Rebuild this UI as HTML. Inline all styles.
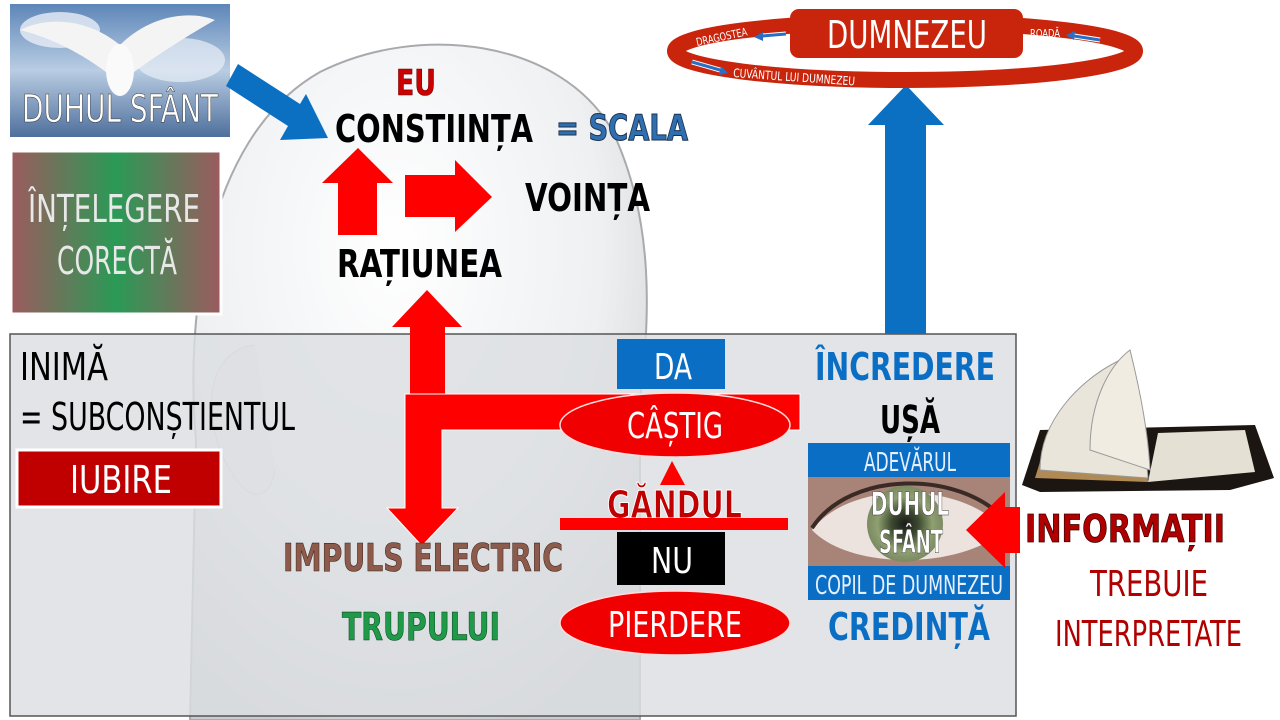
<!DOCTYPE html>
<html><head><meta charset="utf-8"><style>
html,body{margin:0;padding:0;background:#fff;}
svg{display:block;}
text{font-family:"Liberation Sans Narrow","DejaVu Sans Condensed","Liberation Sans",sans-serif;}
.b{font-weight:bold;}
</style></head><body>
<svg width="1280" height="720" viewBox="0 0 1280 720" xmlns="http://www.w3.org/2000/svg">
<defs>
<radialGradient id="head" cx="0.45" cy="0.3" r="0.75">
<stop offset="0" stop-color="#ffffff"/><stop offset="0.6" stop-color="#eef0f2"/><stop offset="1" stop-color="#c9cbce"/>
</radialGradient>
<linearGradient id="sky" x1="0" y1="0" x2="0" y2="1">
<stop offset="0" stop-color="#5d86b8"/><stop offset="0.5" stop-color="#b9cde3"/><stop offset="1" stop-color="#4e6f9c"/>
</linearGradient>
<linearGradient id="int" x1="0" y1="0" x2="1" y2="0">
<stop offset="0" stop-color="#9c5a5e"/><stop offset="0.5" stop-color="#2a9a56"/><stop offset="1" stop-color="#9c5a5e"/>
</linearGradient>
<radialGradient id="eye" cx="0.5" cy="0.5" r="0.6">
<stop offset="0" stop-color="#1a1a1a"/><stop offset="0.3" stop-color="#3d4a30"/><stop offset="0.6" stop-color="#8fa070"/><stop offset="1" stop-color="#6d7a58"/>
</radialGradient>
</defs>

<!-- head -->
<path d="M190,720 L196,440 C186,330 200,140 320,72 C420,22 560,40 612,130 C655,220 650,320 640,400 L640,720 Z" fill="url(#head)" stroke="#a8aaad" stroke-width="2"/>
<path d="M255,345 C205,350 200,420 230,470 C250,505 270,500 275,470" fill="#e6e7e9" stroke="#c8c9cc"/>

<!-- gray box -->
<rect x="10" y="334" width="1006" height="382" fill="#dcdee2" fill-opacity="0.82" stroke="#555" stroke-width="1.5"/>

<!-- dove panel -->
<rect x="10" y="4" width="220" height="133" fill="url(#sky)"/>
<ellipse cx="60" cy="30" rx="40" ry="18" fill="#e8eef6" opacity="0.8"/>
<ellipse cx="180" cy="60" rx="45" ry="22" fill="#e8eef6" opacity="0.7"/>
<path d="M120,45 C90,20 50,15 20,30 C60,40 90,60 110,75 Z" fill="#f4f4f4"/>
<path d="M120,45 C150,15 190,10 215,20 C180,40 150,60 130,75 Z" fill="#f4f4f4"/>
<ellipse cx="120" cy="70" rx="14" ry="26" fill="#fafafa"/>
<text x="22" y="122" font-size="38" fill="#fff" stroke="#333" stroke-width="0.5" textLength="196" lengthAdjust="spacingAndGlyphs">DUHUL SFÂNT</text>

<!-- intelegere -->
<rect x="11" y="151" width="210" height="163" fill="url(#int)" stroke="#fff" stroke-width="3"/>
<text x="28" y="222" font-size="38" fill="#e8e8e8" textLength="172" lengthAdjust="spacingAndGlyphs">ÎNȚELEGERE</text>
<text x="57" y="274" font-size="38" fill="#e8e8e8" textLength="120" lengthAdjust="spacingAndGlyphs">CORECTĂ</text>

<!-- blue diagonal arrow -->
<polygon points="238,64 300,104 306,94 328,138 280,140 288,126 226,86" fill="#0b6fc2"/>

<text x="396" y="95" font-size="36" class="b" fill="#cc0000" stroke="#660000" stroke-width="0.6" textLength="40" lengthAdjust="spacingAndGlyphs">EU</text>
<text x="335" y="142" font-size="38" class="b" fill="#000" textLength="198" lengthAdjust="spacingAndGlyphs">CONSTIINȚA</text>
<text x="556" y="140" font-size="36" class="b" fill="#2f6fb0" stroke="#1a3050" stroke-width="1" textLength="132" lengthAdjust="spacingAndGlyphs">= SCALA</text>

<polygon points="338,235 338,183 322,183 358,148 393,183 377,183 377,235" fill="#ff0000"/>
<polygon points="405,175 455,175 455,160 492,197 455,232 455,217 405,217" fill="#ff0000"/>
<text x="525" y="211" font-size="38" class="b" fill="#000" textLength="125" lengthAdjust="spacingAndGlyphs">VOINȚA</text>
<text x="337" y="277" font-size="38" class="b" fill="#000" textLength="165" lengthAdjust="spacingAndGlyphs">RAȚIUNEA</text>

<polygon points="410,395 410,327 392,327 427,290 462,327 445,327 445,395" fill="#ff0000"/>
<polygon points="405,394 800,394 800,430 442,430 442,508 458,508 422,546 387,508 405,508" fill="#ff0000" stroke="#fff" stroke-width="1"/>

<rect x="617" y="339" width="108" height="50" fill="#0a6fc4"/>
<text x="654" y="379" font-size="36" fill="#fff" textLength="38" lengthAdjust="spacingAndGlyphs">DA</text>
<ellipse cx="675" cy="425" rx="115" ry="32" fill="#f00000" stroke="#ffdcdc" stroke-width="1.5"/>
<text x="627" y="438" font-size="36" fill="#fff" textLength="96" lengthAdjust="spacingAndGlyphs">CÂȘTIG</text>
<polygon points="672,461 660,485 685,485" fill="#ff0000"/>
<text x="607" y="518" font-size="38" class="b" fill="#c00000" stroke="#fff" stroke-width="1" textLength="135" lengthAdjust="spacingAndGlyphs">GĂNDUL</text>
<rect x="560" y="518" width="228" height="12" fill="#ff0000"/>
<rect x="617" y="532" width="108" height="53" fill="#000"/>
<text x="651" y="573" font-size="36" fill="#fff" textLength="42" lengthAdjust="spacingAndGlyphs">NU</text>
<ellipse cx="675" cy="623" rx="115" ry="32" fill="#f00000" stroke="#ffdcdc" stroke-width="1.5"/>
<text x="608" y="637" font-size="36" fill="#fff" textLength="134" lengthAdjust="spacingAndGlyphs">PIERDERE</text>

<text x="283" y="571" font-size="38" class="b" fill="#8d5b4b" stroke="#3a2520" stroke-width="0.6" textLength="280" lengthAdjust="spacingAndGlyphs">IMPULS ELECTRIC</text>
<text x="342" y="640" font-size="38" class="b" fill="#1e9a48" stroke="#0c4020" stroke-width="0.6" textLength="158" lengthAdjust="spacingAndGlyphs">TRUPULUI</text>

<text x="20" y="380" font-size="38" fill="#000" textLength="88" lengthAdjust="spacingAndGlyphs">INIMĂ</text>
<text x="20" y="430" font-size="38" fill="#000" textLength="275" lengthAdjust="spacingAndGlyphs">= SUBCONȘTIENTUL</text>
<rect x="17" y="450" width="204" height="57" fill="#c00000" stroke="#fff" stroke-width="3"/>
<text x="70" y="493" font-size="38" fill="#fff" textLength="102" lengthAdjust="spacingAndGlyphs">IUBIRE</text>

<text x="815" y="380" font-size="38" class="b" fill="#0a6fc4" textLength="180" lengthAdjust="spacingAndGlyphs">ÎNCREDERE</text>
<text x="880" y="433" font-size="38" class="b" fill="#000" textLength="60" lengthAdjust="spacingAndGlyphs">UȘĂ</text>
<rect x="808" y="443" width="202" height="157" fill="#a88478"/>
<path d="M812,530 C850,480 960,480 1005,530 C960,570 850,570 812,530 Z" fill="#ede3de"/>
<path d="M812,528 C850,470 960,470 1005,520" fill="none" stroke="#3a2a25" stroke-width="4"/>
<circle cx="905" cy="524" r="38" fill="url(#eye)"/>
<rect x="808" y="443" width="202" height="34" fill="#0a6fc4"/>
<text x="864" y="471" font-size="26" fill="#e8f0ff" textLength="92" lengthAdjust="spacingAndGlyphs">ADEVĂRUL</text>
<text x="871" y="515" font-size="32" class="b" fill="#fff" stroke="#333" stroke-width="0.5" textLength="78" lengthAdjust="spacingAndGlyphs">DUHUL</text>
<text x="879" y="553" font-size="32" class="b" fill="#fff" stroke="#333" stroke-width="0.5" textLength="64" lengthAdjust="spacingAndGlyphs">SFÂNT</text>
<rect x="808" y="566" width="202" height="34" fill="#0a6fc4"/>
<text x="815" y="594" font-size="26" fill="#e8f0ff" textLength="188" lengthAdjust="spacingAndGlyphs">COPIL DE DUMNEZEU</text>
<text x="828" y="640" font-size="38" class="b" fill="#0a6fc4" textLength="162" lengthAdjust="spacingAndGlyphs">CREDINȚĂ</text>

<polygon points="1020,507 1005,507 1005,492 966,530 1005,568 1005,553 1020,553" fill="#ff0000"/>
<text x="1025" y="542" font-size="38" class="b" fill="#b00000" stroke="#400000" stroke-width="0.8" textLength="200" lengthAdjust="spacingAndGlyphs">INFORMAȚII</text>
<text x="1090" y="596" font-size="36" fill="#b00000" textLength="118" lengthAdjust="spacingAndGlyphs">TREBUIE</text>
<text x="1055" y="646" font-size="36" fill="#b00000" textLength="187" lengthAdjust="spacingAndGlyphs">INTERPRETATE</text>

<!-- bible -->
<polygon points="1022,485 1040,430 1255,425 1274,478 1230,490 1040,492" fill="#1c1612"/>
<polygon points="1035,478 1048,436 1145,440 1148,482" fill="#b08a55"/>
<polygon points="1148,482 1158,433 1245,430 1255,472" fill="#e4e0d4"/>
<path d="M1040,470 C1040,420 1080,380 1120,360 C1135,400 1145,440 1148,478 Z" fill="#e9e5da" stroke="#999"/>
<path d="M1090,450 C1090,400 1110,365 1130,350 C1140,390 1148,430 1150,470 Z" fill="#f0ece2" stroke="#999"/>

<!-- blue big up arrow -->
<polygon points="885,334 885,125 868,125 906,85 944,125 926,125 926,334" fill="#0b6fc2"/>

<!-- ring -->
<ellipse cx="905" cy="51" rx="230" ry="29" fill="none" stroke="#c8250c" stroke-width="16"/>
<rect x="790" y="9" width="233" height="49" rx="9" fill="#c8250c"/>
<text x="827" y="48" font-size="38" fill="#fff" textLength="160" lengthAdjust="spacingAndGlyphs">DUMNEZEU</text>
<text x="697" y="46" font-size="11" fill="#fff" transform="rotate(-12 697 46)" textLength="52" lengthAdjust="spacingAndGlyphs">DRAGOSTEA</text>
<line x1="786" y1="34" x2="762" y2="36" stroke="#fff" stroke-width="5"/>
<line x1="786" y1="34" x2="762" y2="36" stroke="#2a6fc4" stroke-width="3"/>
<polygon points="754,37 763,32 763,41" fill="#2a6fc4"/>
<text x="1030" y="37" font-size="11" fill="#fff" textLength="30" lengthAdjust="spacingAndGlyphs">ROADĂ</text>
<line x1="1100" y1="40" x2="1074" y2="36" stroke="#fff" stroke-width="5"/>
<line x1="1100" y1="40" x2="1074" y2="36" stroke="#2a6fc4" stroke-width="3"/>
<polygon points="1066,35 1075,31 1074,40" fill="#2a6fc4"/>
<line x1="692" y1="62" x2="720" y2="70" stroke="#fff" stroke-width="5"/>
<line x1="692" y1="62" x2="720" y2="70" stroke="#2a6fc4" stroke-width="3"/>
<polygon points="728,73 719,75 721,66" fill="#2a6fc4"/>
<text x="733" y="77" font-size="12" fill="#fff" transform="rotate(4 733 77)" textLength="122" lengthAdjust="spacingAndGlyphs">CUVÂNTUL LUI DUMNEZEU</text>
</svg>
</body></html>
